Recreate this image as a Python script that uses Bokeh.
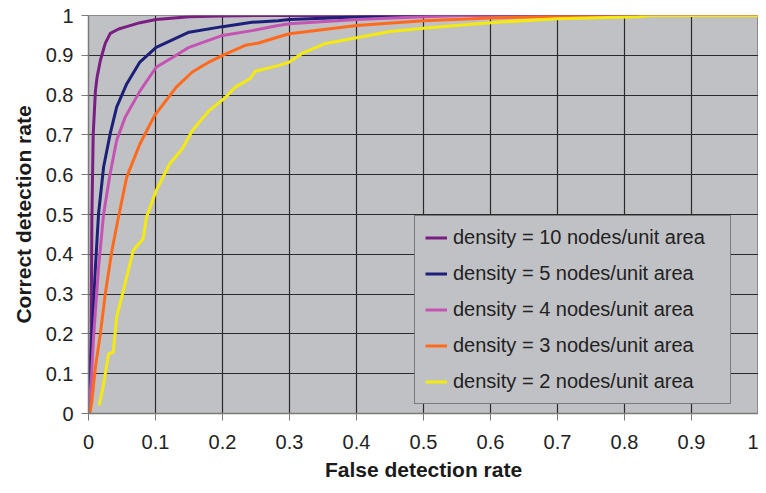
from bokeh.plotting import figure
from bokeh.models import FixedTicker, Legend, LegendItem, Range1d
from bokeh.embed import file_html
from bokeh.resources import INLINE

# Data
x_d10 = [0, 0.002, 0.004, 0.005, 0.007, 0.0103, 0.0128, 0.0177, 0.025, 0.0325, 0.045, 0.057, 0.077, 0.101, 0.15, 0.2, 0.25, 1.0]
y_d10 = [0, 0.08, 0.2, 0.49, 0.70, 0.81, 0.845, 0.887, 0.93, 0.955, 0.966, 0.972, 0.982, 0.99, 0.997, 0.999, 1.0, 1.0]

x_d5 = [0, 0.003, 0.0054, 0.0103, 0.015, 0.0226, 0.0324, 0.042, 0.057, 0.0767, 0.101, 0.15, 0.2, 0.244, 0.283, 0.3, 0.4, 0.46, 1.0]
y_d5 = [0, 0.1, 0.20, 0.367, 0.502, 0.62, 0.703, 0.77, 0.828, 0.883, 0.92, 0.958, 0.972, 0.983, 0.987, 0.99, 0.996, 1.0, 1.0]

x_d4 = [0, 0.004, 0.0079, 0.015, 0.0226, 0.032, 0.042, 0.0546, 0.0767, 0.101, 0.126, 0.15, 0.2, 0.244, 0.283, 0.3, 0.4, 0.5, 0.56, 1.0]
y_d4 = [0, 0.08, 0.2, 0.367, 0.502, 0.60, 0.686, 0.744, 0.81, 0.87, 0.895, 0.92, 0.95, 0.962, 0.975, 0.979, 0.99, 0.997, 1.0, 1.0]

x_d3 = [0.002, 0.005, 0.0103, 0.0177, 0.025, 0.035, 0.0447, 0.057, 0.0767, 0.0988, 0.131, 0.155, 0.18, 0.2, 0.234, 0.254, 0.283, 0.3, 0.4, 0.5, 0.6, 0.7, 0.75, 1.0]
y_d3 = [0, 0.03, 0.116, 0.2, 0.30, 0.41, 0.493, 0.594, 0.677, 0.749, 0.82, 0.858, 0.883, 0.90, 0.925, 0.931, 0.946, 0.954, 0.975, 0.987, 0.994, 0.998, 1.0, 1.0]

x_d2 = [0.016, 0.0226, 0.030, 0.037, 0.042, 0.052, 0.0668, 0.0816, 0.0865, 0.101, 0.121, 0.14, 0.155, 0.18, 0.205, 0.219, 0.241, 0.249, 0.283, 0.3, 0.318, 0.352, 0.4, 0.45, 0.5, 0.549, 0.6, 0.7, 0.82, 0.84, 1.0]
y_d2 = [0.02, 0.075, 0.15, 0.154, 0.242, 0.309, 0.41, 0.439, 0.493, 0.56, 0.627, 0.665, 0.711, 0.761, 0.795, 0.82, 0.841, 0.86, 0.874, 0.883, 0.904, 0.929, 0.944, 0.96, 0.968, 0.975, 0.982, 0.992, 0.997, 1.0, 1.0]

series_labels = ["density = 10 nodes/unit area", "density = 5 nodes/unit area",
                 "density = 4 nodes/unit area", "density = 3 nodes/unit area",
                 "density = 2 nodes/unit area"]
series_colors = ["#7a1f82", "#1e1f78", "#c553b4", "#ff6a1c", "#f4ea10"]

tick_values = [0, 0.1, 0.2, 0.3, 0.4, 0.5, 0.6, 0.7, 0.8, 0.9, 1.0]
tick_labels = ["0", "0.1", "0.2", "0.3", "0.4", "0.5", "0.6", "0.7", "0.8", "0.9", "1"]

FONT = "Liberation Sans"
BG = "#c0c1c5"

p = figure(width=758, height=485, output_backend="svg", toolbar_location=None,
           x_range=Range1d(0, 1), y_range=Range1d(0, 1),
           min_border_left=88, min_border_right=0, min_border_top=15, min_border_bottom=72)
p.background_fill_color = BG
p.border_fill_color = "white"
p.outline_line_color = "#8a8a8a"
p.outline_line_width = 1

for ax, title in ((p.xaxis[0], "False detection rate"), (p.yaxis[0], "Correct detection rate")):
    ax.ticker = FixedTicker(ticks=tick_values)
    ax.major_label_overrides = {v: l for v, l in zip(tick_values, tick_labels)}
    ax.minor_tick_line_color = None
    ax.major_tick_in = 0
    ax.major_tick_out = 7
    ax.major_tick_line_color = "#7a7a7a"
    ax.axis_line_color = "#7a7a7a"
    ax.axis_line_width = 1.5
    ax.major_label_text_font = FONT
    ax.major_label_text_font_size = "20px"
    ax.major_label_text_color = "#222222"
    ax.axis_label = title
    ax.axis_label_text_font = FONT
    ax.axis_label_text_font_size = "21px"
    ax.axis_label_text_font_style = "bold"
    ax.axis_label_text_color = "#1a1a1a"

p.xaxis.major_label_standoff = 14
p.xaxis.axis_label_standoff = 6
p.yaxis.major_label_standoff = 8
p.yaxis.axis_label_standoff = 8

p.xgrid.ticker = FixedTicker(ticks=tick_values)
p.ygrid.ticker = FixedTicker(ticks=tick_values)
p.xgrid.grid_line_color = "#2a2a2a"
p.ygrid.grid_line_color = "#2a2a2a"
p.xgrid.grid_line_width = 1.2
p.ygrid.grid_line_width = 1.2

xs = [x_d10, x_d5, x_d4, x_d3, x_d2]
ys = [y_d10, y_d5, y_d4, y_d3, y_d2]
items = []
for xv, yv, lab, col in zip(xs, ys, series_labels, series_colors):
    r = p.line(xv, yv, line_color=col, line_width=3)
    items.append(LegendItem(label=lab, renderers=[r]))

legend = Legend(items=items, location=(326, 9))
legend.background_fill_color = BG
legend.background_fill_alpha = 1
legend.border_line_color = "#333333"
legend.border_line_width = 1.2
legend.label_text_font = FONT
legend.label_text_font_size = "20px"
legend.label_text_color = "#222222"
legend.glyph_width = 22
legend.glyph_height = 23
legend.label_height = 23
legend.label_width = 267
legend.label_standoff = 6
legend.spacing = 13
legend.padding = 10
legend.margin = 0
p.add_layout(legend, "center")

open("out.html", "w").write(file_html(p, INLINE))
